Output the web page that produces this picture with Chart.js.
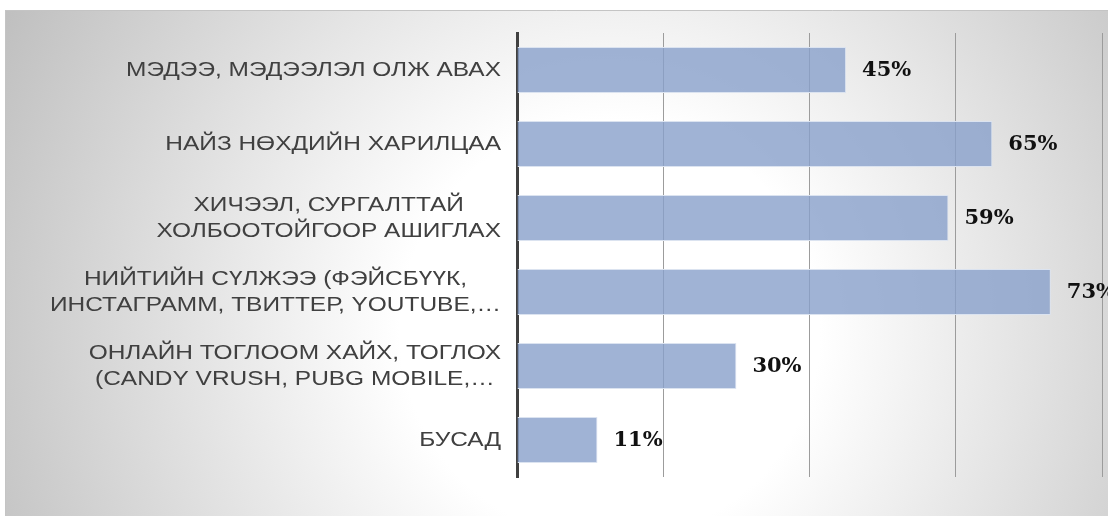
<!DOCTYPE html>
<html>
<head>
<meta charset="utf-8">
<script src="https://cdn.jsdelivr.net/npm/chart.js@4.4.0/dist/chart.umd.min.js"></script>
<style>
  html, body { margin: 0; padding: 0; background: #fff; }
</style>
</head>
<body>
<canvas id="usageChart" width="1108" height="516"></canvas>
<script>
  // categories (each entry = lines of the label, as in the original)
  const categories = [
    ['МЭДЭЭ, МЭДЭЭЛЭЛ ОЛЖ АВАХ'],
    ['НАЙЗ НӨХДИЙН ХАРИЛЦАА'],
    ['ХИЧЭЭЛ, СУРГАЛТТАЙ', 'ХОЛБООТОЙГООР АШИГЛАХ'],
    ['НИЙТИЙН СҮЛЖЭЭ (ФЭЙСБҮҮК,', 'ИНСТАГРАММ, ТВИТТЕР, YOUTUBE,…'],
    ['ОНЛАЙН ТОГЛООМ ХАЙХ, ТОГЛОХ', '(CANDY VRUSH, PUBG MOBILE,…'],
    ['БУСАД']
  ];
  const shares = [45, 65, 59, 73, 30, 11];
  const axisMax = 80;
  const axisStep = 20;

  // gray radial background with thin frame
  const backdrop = {
    id: 'backdrop',
    beforeDraw(chart) {
      const ctx = chart.ctx;
      ctx.save();
      ctx.fillStyle = '#ffffff';
      ctx.fillRect(0, 0, chart.width, chart.height);
      const g = ctx.createRadialGradient(610, 330, 0, 610, 330, 700);
      g.addColorStop(0, '#ffffff');
      g.addColorStop(0.3, '#ffffff');
      g.addColorStop(1, '#bdbdbd');
      ctx.fillStyle = g;
      ctx.fillRect(5, 10, chart.width - 5, chart.height - 10);
      ctx.strokeStyle = '#c4c4c4';
      ctx.lineWidth = 1;
      ctx.beginPath();
      ctx.moveTo(5.5, chart.height);
      ctx.lineTo(5.5, 10.5);
      ctx.lineTo(chart.width, 10.5);
      ctx.stroke();
      ctx.restore();
    }
  };

  // category names: block right-aligned to the axis, lines centred inside the block
  // (the original text is a bit stretched sideways, hence the x scale)
  const categoryNames = {
    id: 'categoryNames',
    afterDraw(chart) {
      const ctx = chart.ctx;
      const yScale = chart.scales.y;
      const right = chart.chartArea.left - 16;
      const lh = 26;
      const sx = 1.165;
      ctx.save();
      ctx.font = '21px "Liberation Sans", Arial, sans-serif';
      ctx.fillStyle = '#404040';
      ctx.textAlign = 'center';
      ctx.textBaseline = 'middle';
      categories.forEach((lines, i) => {
        const yc = yScale.getPixelForValue(i);
        const w = Math.max(...lines.map(l => ctx.measureText(l).width)) * sx;
        const cx = right - w / 2;
        lines.forEach((l, k) => {
          ctx.save();
          ctx.translate(cx, yc + (k - (lines.length - 1) / 2) * lh);
          ctx.scale(sx, 1);
          ctx.fillText(l, 0, 0);
          ctx.restore();
        });
      });
      ctx.restore();
    }
  };

  // value labels at the bar ends
  const valueLabels = {
    id: 'valueLabels',
    afterDatasetsDraw(chart) {
      const ctx = chart.ctx;
      const meta = chart.getDatasetMeta(0);
      ctx.save();
      ctx.font = 'bold 21px "DejaVu Serif", serif';
      ctx.fillStyle = '#111111';
      ctx.textAlign = 'left';
      ctx.textBaseline = 'middle';
      meta.data.forEach((bar, i) => {
        ctx.fillText(shares[i] + '%', bar.x + 16, bar.y + 1);
      });
      ctx.restore();
    }
  };

  const usageChart = new Chart(document.getElementById('usageChart'), {
    type: 'bar',
    data: {
      labels: categories,
      datasets: [{
        data: shares,
        backgroundColor: 'rgba(136, 160, 202, 0.8)',
        borderColor: '#dbe3f0',
        borderWidth: 1,
        barPercentage: 0.62,
        categoryPercentage: 1
      }]
    },
    options: {
      indexAxis: 'y',
      responsive: false,
      animation: false,
      devicePixelRatio: 1,
      layout: {
        padding: { left: 517, right: 6, top: 33, bottom: 39 }
      },
      plugins: {
        legend: { display: false },
        tooltip: { enabled: false }
      },
      scales: {
        x: {
          min: 0,
          max: axisMax,
          ticks: { display: false, stepSize: axisStep },
          grid: { color: '#9c9c9c', lineWidth: 1, drawTicks: false },
          border: { display: false },
          afterFit(s) { s.height = 0; }
        },
        y: {
          ticks: { display: false },
          grid: { display: false, drawTicks: false },
          border: { display: true, color: '#404040', width: 3 },
          afterFit(s) { s.width = 0; }
        }
      }
    },
    plugins: [backdrop, categoryNames, valueLabels]
  });
</script>
</body>
</html>
